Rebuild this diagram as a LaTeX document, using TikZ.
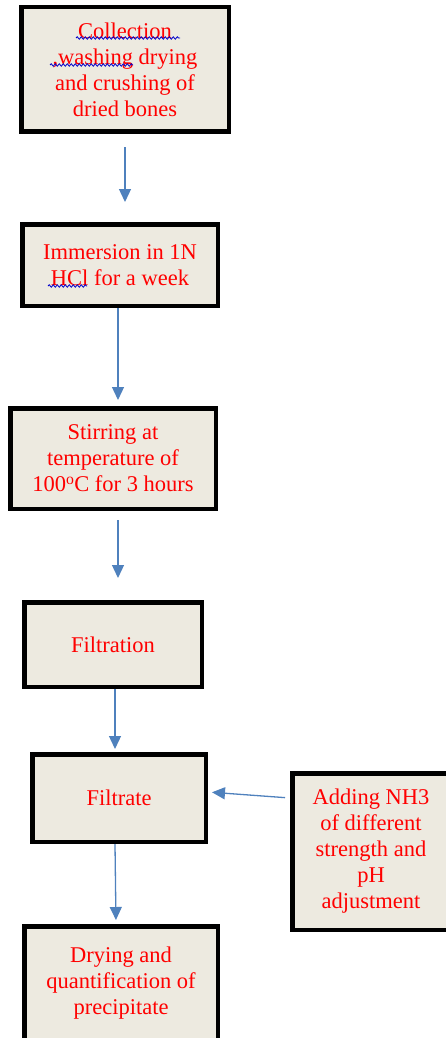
\documentclass[tikz,border=0pt]{standalone}
\usepackage{fontspec}
\setmainfont{Liberation Serif}
\newfontfamily\stepfont{Liberation Serif}
\usetikzlibrary{arrows.meta,snakes}
\definecolor{boxfill}{RGB}{237,234,224}
\definecolor{flowblue}{RGB}{79,129,189}
\def\Wavy#1#2{\draw [snake=snake,segment amplitude=1.2pt,segment length=4pt,blue!80!black,line width=0.8pt] #1 -- #2;}

\begin{document}
\begin{tikzpicture}[x=1pt,y=-1pt,
  stepbox/.style={draw,line width=4.5pt,fill=boxfill,text=red,align=center,
    font=\stepfont\fontsize{22.5}{26}\selectfont,inner sep=0pt},
  flow/.style={draw=flowblue,line width=1.3pt,-{Triangle[width=12pt,length=13pt]}}]
  \useasboundingbox (0,0) rectangle (445,1038);
  \node[stepbox,minimum width=207.5pt,minimum height=124.5pt] (collect) at (125,69.5)
    {Collection\\,washing drying\\and crushing of\\dried bones};
  \node[stepbox,minimum width=195.5pt,minimum height=81.5pt] (immerse) at (120,265)
    {Immersion in 1N\\HCl for a week};
  \node[stepbox,minimum width=205.5pt,minimum height=100.5pt] (stir) at (113,458.5)
    {Stirring at\\temperature of\\100\textsuperscript{o}C for 3 hours};
  \node[stepbox,minimum width=177.5pt,minimum height=84.5pt] (filtration) at (113,644.5) {Filtration};
  \node[stepbox,minimum width=173.5pt,minimum height=87.5pt] (filtrate) at (119,798) {Filtrate};
  \node[stepbox,minimum width=157.5pt,minimum height=156.5pt] (adding) at (371,851.5)
    {Adding NH3\\of different\\strength and\\pH\\adjustment};
  \node[stepbox,minimum width=193.5pt,minimum height=113.5pt] (drying) at (121,983)
    {Drying and\\quantification of\\precipitate};
  % spell check marks
  \Wavy{(76,38)}{(180,38)}
  \Wavy{(50,65)}{(133,65)}
  \Wavy{(48,286)}{(87,286)}
  % arrows
  \draw[flow,shorten <=13pt,shorten >=20pt] (collect.south) -- (collect.south |- immerse.north);
  \draw[flow,shorten >=6pt] ([xshift=-2pt]immerse.south) -- ([xshift=5pt]stir.north);
  \draw[flow,shorten <=9pt,shorten >=22pt] ([xshift=5pt]stir.south) -- ([xshift=5pt]filtration.north);
  \draw[flow,shorten >=3pt] ([xshift=2pt]filtration.south) -- ([xshift=-4pt]filtrate.north);
  \draw[flow,shorten <=5pt,shorten >=4pt] ([yshift=53.5pt]adding.west) -- ([yshift=6pt]filtrate.east);
  \draw[flow,shorten >=4pt] ([xshift=-4pt]filtrate.south) -- ([xshift=-5pt]drying.north);
\end{tikzpicture}
\end{document}
